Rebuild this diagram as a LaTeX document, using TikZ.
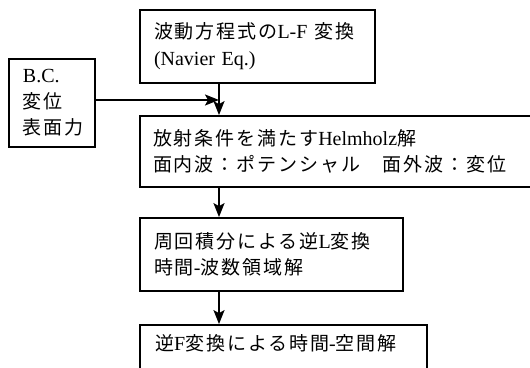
\documentclass[tikz,border=0pt]{standalone}
\usepackage{fontspec}
\setmainfont{Liberation Serif}
\newfontfamily\jp[Scale=0.95,LetterSpace=10]{Noto Sans CJK JP}
\newcommand\J[1]{{\jp #1}}
\usetikzlibrary{arrows.meta}
\begin{document}
\begin{tikzpicture}[x=1pt,y=-1pt,
  box/.style={draw,line width=1.8pt,inner xsep=14pt,inner ysep=0pt,align=left,
    font=\fontsize{20}{26}\selectfont},
  arr/.style={line width=1.6pt,-{Stealth[length=14pt,width=11pt,inset=3pt]}}]
\useasboundingbox (0,0) rectangle (530,367);
\clip (0,0) rectangle (530,367);
\node[box,text width=207pt,minimum height=73pt,font=\fontsize{20}{27}\selectfont] (b1) at (257.5,46.5)
  {\J{波動方程式の}L-F \J{変換}\\(Navier Eq.)};
\node[box,text width=58pt,minimum height=88pt] (bc) at (52,103)
  {B.C.\\\J{変位}\\\J{表面力}};
\node[box,text width=379pt,minimum height=71pt,inner xsep=13pt] (b2) at (342.5,151.5)
  {\J{放射条件を満たす}Helmholz\J{解}\\\J{面内波：ポテンシャル　面外波：変位}};
\node[box,text width=235pt,minimum height=73pt] (b3) at (271.5,254.5)
  {\J{周回積分による逆}L\J{変換}\\\J{時間}-\J{波数領域解}};
\node[box,minimum width=287pt,minimum height=55pt] (b4) at (283.5,352.5) {};
\node[anchor=west,inner sep=0pt,font=\fontsize{20}{26}\selectfont] (t4) at (155,343)
  {\J{逆}F\J{変換による時間}-\J{空間解}};
\coordinate (col) at (219,0);
\coordinate (j) at (219,100);
\draw[arr] (col |- b1.south) -- (col |- b2.north);
\draw[arr] (bc.east |- j) -- (j);
\draw[arr] (col |- b2.south) -- (col |- b3.north);
\draw[arr] (col |- b3.south) -- (col |- b4.north);
\end{tikzpicture}
\end{document}
